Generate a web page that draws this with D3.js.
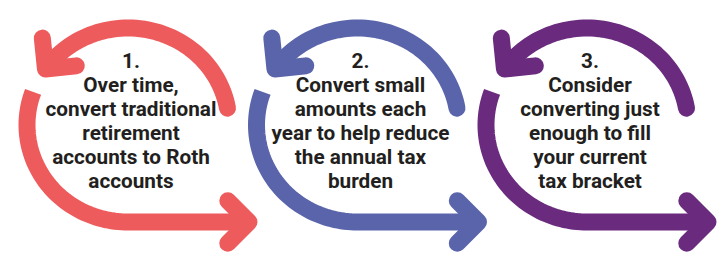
<!DOCTYPE html>
<html>
<head>
<meta charset="utf-8">
<script src="https://cdn.jsdelivr.net/npm/d3@7"></script>
<style>
  body { margin: 0; background: #fff; }
</style>
</head>
<body>
<script>
// three steps: number, text lines, colour
const stepNumbers = ["1.", "2.", "3."];
const stepLines = [
  ["Over time,", "convert traditional", "retirement", "accounts to Roth", "accounts"],
  ["Convert small", "amounts each", "year to help reduce", "the annual tax", "burden"],
  ["Consider", "converting just", "enough to fill", "your current", "tax bracket"]
];
const stepColors = ["#ee5b5d", "#5a64ab", "#6a2a7e"];

const width = 722, height = 254;

const svg = d3.select("body").append("svg")
    .attr("width", width)
    .attr("height", height);

// centre of each loop
const x = d3.scaleLinear().domain([0, stepNumbers.length - 1]).range([128, 587]);
const cy = 125, rx = 101, ry = 97, lw = 17;
const rad = d => d * Math.PI / 180;
const line = d3.line();

function arcPts(cx, a0, a1, n) {
  return d3.range(n + 1).map(function(i) {
    let t = rad(a0 + (a1 - a0) * i / n);
    return [cx + rx * Math.cos(t), cy + ry * Math.sin(t)];
  });
}

// chevron head: tip point + unit direction it points to
function chevron(tip, dir, len) {
  let bx = -dir[0], by = -dir[1], c = Math.SQRT1_2;
  let a1 = [tip[0] + len * c * (bx - by), tip[1] + len * c * (bx + by)];
  let a2 = [tip[0] + len * c * (bx + by), tip[1] + len * c * (by - bx)];
  return line([a1, tip, a2]);
}

function unit(p, q) {
  let dx = q[0] - p[0], dy = q[1] - p[1], l = Math.hypot(dx, dy);
  return [dx / l, dy / l];
}

stepNumbers.forEach(function(num, i) {
  let cx = x(i);
  let g = svg.append("g")
      .attr("fill", "none")
      .attr("stroke", stepColors[i])
      .attr("stroke-width", lw);

  // upper arc, ends in a head at the top left
  let top = arcPts(cx, -10, -143, 60);
  g.append("path")
      .attr("d", line(top))
      .attr("stroke-linecap", "round");
  let tEnd = top[top.length - 1];
  let tDir = unit(top[top.length - 2], tEnd);
  g.append("path")
      .attr("d", chevron([tEnd[0] + tDir[0] * 3, tEnd[1] + tDir[1] * 3], tDir, 31))
      .attr("stroke-linecap", "round")
      .attr("stroke-linejoin", "round");

  // lower arc, runs round the bottom and out to the right
  let low = arcPts(cx, 200, 90, 60);
  let tip = [cx + 121, cy + ry];
  low.push([tip[0] - 2, tip[1]]);
  g.append("path")
      .attr("d", line(low))
      .attr("stroke-linecap", "butt");
  g.append("path")
      .attr("d", chevron(tip, [1, 0], 30))
      .attr("stroke-linecap", "round")
      .attr("stroke-linejoin", "round");
});

// text blocks
const fontSize = 21, lineStep = 24, firstBase = 68;
const txt = svg.append("g")
    .attr("font-family", "Roboto, 'Open Sans', sans-serif")
    .attr("font-weight", 700)
    .attr("font-size", fontSize)
    .attr("fill", "#231f20")
    .attr("text-anchor", "middle");

let blocks = txt.selectAll("g.step")
  .data(stepNumbers.map((n, i) => [n].concat(stepLines[i])))
  .join("g")
    .attr("class", "step");

let inner = blocks.append("g");
inner.selectAll("text")
  .data(d => d)
  .join("text")
    .attr("x", 0)
    .attr("y", (d, j) => firstBase + j * lineStep)
    .text(d => d);

// squeeze the face to the narrow width of the original lettering
let probe = inner.filter((d, i) => i === 0).selectAll("text").filter((d, j) => j === 2).node();
let sx = 171 / probe.getComputedTextLength();
blocks.attr("transform", (d, i) => "translate(" + (x(i) + 3) + ",0)");
inner.attr("transform", "scale(" + sx + ",1)");
</script>
</body>
</html>
